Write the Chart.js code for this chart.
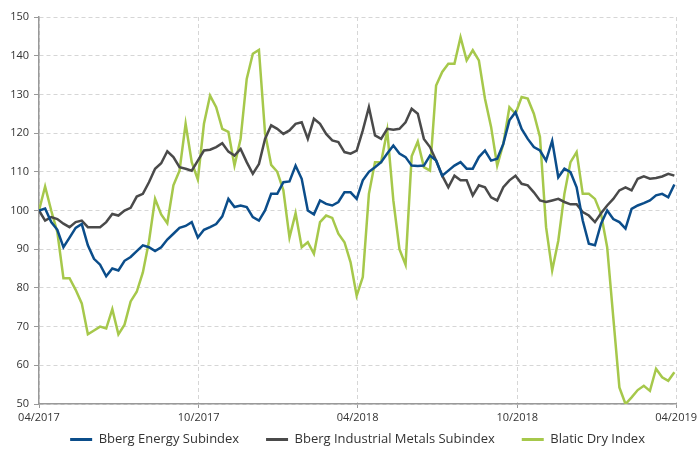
<!DOCTYPE html>
<html>
<head>
<meta charset="utf-8">
<script src="https://cdn.jsdelivr.net/npm/chart.js@4/dist/chart.umd.min.js"></script>
<style>
  html, body { margin: 0; padding: 0; background: #ffffff; }
  #wrap { width: 700px; height: 459px; }
</style>
</head>
<body>
<div id="wrap"><canvas id="c" width="700" height="459"></canvas></div>
<script>
// ---- data (weekly readings, week 0 = start of 04/2017) ----
const seriesNames = ['Bberg Energy Subindex', 'Bberg Industrial Metals Subindex', 'Blatic Dry Index'];
const tickDays = [0, 183, 365, 548, 730];
const tickLabels = ['04/2017', '10/2017', '04/2018', '10/2018', '04/2019'];
const yTicks = [50, 60, 70, 80, 90, 100, 110, 120, 130, 140, 150];

const energy = [
  100, 100.5, 97, 95, 90.5, 93, 95.5, 96.5, 91, 87.5,
  86, 83, 85, 84.5, 87, 88, 89.5, 91, 90.5, 89.5,
  90.5, 92.5, 94, 95.5, 96, 97, 93, 95, 95.7, 96.5,
  98.5, 103, 100.9, 101.3, 100.9, 98.3, 97.4, 100, 104.3, 104.3,
  107.3, 107.5, 111.6, 108.2, 100, 99, 102.6, 101.7, 101.3, 102.2,
  104.7, 104.7, 103, 107.8, 110, 111.2, 112.5, 114.7, 116.8, 114.7,
  113.8, 111.6, 111.5, 111.6, 114.2, 112.9, 109, 110.3, 111.6, 112.5,
  110.8, 110.8, 113.8, 115.5, 112.9, 113.4, 117.2, 123.3, 125.4, 121.1,
  118.5, 116.4, 115.5, 112.9, 118, 108.6, 110.8, 109.9, 106, 97.4,
  91.4, 91, 96.6, 100, 97.8, 97, 95.3, 100.4, 101.3, 101.9,
  102.6, 103.9, 104.3, 103.4, 106.7
];

const metals = [
  100, 97.4, 98.3, 97.8, 96.6, 95.7, 97, 97.4, 95.7, 95.7,
  95.7, 97, 99.1, 98.7, 100, 100.7, 103.6, 104.3, 107.3, 110.8,
  112.2, 115.3, 113.8, 111.2, 110.8, 110.3, 112.9, 115.5, 115.7, 116.4,
  117.4, 115.2, 114.2, 115.9, 112.5, 109.5, 112, 118.5, 122, 121.1,
  119.8, 120.7, 122.4, 122.8, 118.5, 123.7, 122.4, 119.8, 118.1, 117.7,
  115.1, 114.7, 115.5, 120.7, 126.7, 119.4, 118.5, 121.1, 120.9, 121.1,
  122.8, 126.3, 125, 118.5, 116.4, 112.9, 109, 106, 109, 107.8,
  107.8, 103.9, 106.5, 106, 103.4, 102.6, 106, 107.8, 109, 106.9,
  106.5, 104.7, 102.6, 102.2, 102.6, 103, 102.2, 101.6, 101.6, 99.6,
  98.7, 97, 99.3, 101.3, 103, 105.2, 106, 105.2, 108.2, 108.8,
  108.2, 108.4, 108.8, 109.5, 109
];

const baltic = [
  100, 106.2, 100, 94.4, 82.5, 82.5, 79.5, 76, 68, 69,
  70, 69.5, 74.5, 68, 70.5, 76.5, 79, 84, 92, 103,
  99, 96.7, 106.5, 110.3, 122.4, 112.5, 108, 122.4, 129.7, 126.7,
  121.1, 120.3, 111.6, 118.5, 134, 140.5, 141.5, 120, 111.8, 110,
  105.2, 93, 99.3, 90.5, 91.8, 88.8, 97, 98.7, 98.1, 94,
  91.8, 86.6, 78, 82.8, 104.3, 112.5, 112.5, 120.7, 102.6, 90,
  86, 114, 117.8, 111.2, 110.3, 132.3, 135.8, 137.9, 137.9, 144.8,
  138.8, 141.4, 138.8, 128.9, 121.6, 111.6, 117.2, 126.7, 125, 129.3,
  128.9, 125, 119, 95.7, 84.5, 92.2, 104.3, 112.5, 115.1, 104.3,
  104.3, 103, 99.1, 90.5, 72.4, 54.3, 50, 51.7, 53.6, 54.7,
  53.4, 59.1, 56.9, 56, 58.2
];

const colors = ['#0b4d8a', '#4a4a4a', '#a6c84b'];

// x positions: day offset of each weekly reading
const weekDays = energy.map((_, i) => i * 7);
const toPoints = arr => arr.map((v, i) => ({ x: weekDays[i], y: v }));

const FONT = "'Open Sans', 'Noto Sans', sans-serif";
Chart.defaults.font.family = FONT;

const legendGap = '     ';

new Chart(document.getElementById('c').getContext('2d'), {
  type: 'line',
  data: {
    datasets: [energy, metals, baltic].map((arr, i) => ({
      label: seriesNames[i],
      data: toPoints(arr),
      borderColor: colors[i],
      backgroundColor: colors[i],
      borderWidth: 2.5,
      pointRadius: 0,
      fill: false,
      tension: 0
    }))
  },
  options: {
    responsive: false,
    animation: false,
    devicePixelRatio: 1,
    layout: { padding: { top: 17, right: 23, bottom: 3, left: 0 } },
    plugins: {
      tooltip: { enabled: false },
      legend: {
        position: 'bottom',
        fullSize: false,
        labels: {
          boxWidth: 22,
          boxHeight: 3,
          padding: 10,
          color: '#333333',
          font: { size: 13, family: FONT },
          generateLabels: chart => {
            const items = Chart.defaults.plugins.legend.labels.generateLabels(chart);
            items.forEach((it, i) => {
              it.fillStyle = colors[i];
              it.strokeStyle = colors[i];
              it.lineWidth = 0;
              if (i < items.length - 1) it.text = it.text + legendGap;
            });
            return items;
          }
        }
      }
    },
    scales: {
      x: {
        type: 'linear',
        min: tickDays[0],
        max: tickDays[tickDays.length - 1],
        afterBuildTicks: s => { s.ticks = tickDays.map(v => ({ value: v })); },
        afterFit: s => { s.height = 19; },
        ticks: {
          autoSkip: false,
          maxRotation: 0,
          padding: 3,
          color: '#333333',
          font: { size: 11 },
          callback: (v, idx) => tickLabels[idx]
        },
        grid: { color: '#d6d6d6', lineWidth: 1, tickLength: 4, tickColor: '#999999' },
        border: { display: true, color: '#999999', width: 1.5, dash: [4, 3] }
      },
      y: {
        min: yTicks[0],
        max: yTicks[yTicks.length - 1],
        afterBuildTicks: s => { s.ticks = yTicks.map(v => ({ value: v })); },
        afterFit: s => { s.width = 39; },
        ticks: {
          padding: 5,
          color: '#333333',
          font: { size: 11 }
        },
        grid: { color: '#d6d6d6', lineWidth: 1, tickLength: 5, tickColor: '#999999' },
        border: { display: true, color: '#999999', width: 1.5, dash: [4, 3] }
      }
    }
  }
});
</script>
</body>
</html>
